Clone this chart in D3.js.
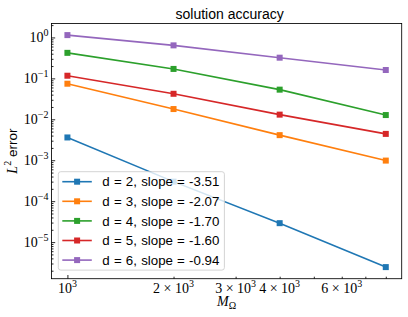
<!DOCTYPE html>
<html>
<head>
<meta charset="utf-8">
<script src="https://cdn.jsdelivr.net/npm/d3@7"></script>
<style>
  body { margin: 0; background: #fff; }
  svg { display: block; }
</style>
</head>
<body>
<svg width="408" height="317"></svg>
<script>
// data
var m_omega = [1000, 2000, 4000, 8000];
var dims = [2, 3, 4, 5, 6];
var slopes = ["-3.51", "-2.07", "-1.70", "-1.60", "-0.94"];
var err_d2 = [0.0036, 0.0003, 2.9e-5, 2.45e-6];
var err_d3 = [0.074, 0.0178, 0.0041, 0.00098];
var err_d4 = [0.42, 0.17, 0.053, 0.0127];
var err_d5 = [0.116, 0.042, 0.013, 0.0044];
var err_d6 = [1.14, 0.64, 0.32, 0.16];
var y_major = [1, 1e-1, 1e-2, 1e-3, 1e-4, 1e-5];
var x_labels = [1000, 2000, 3000, 4000, 6000];

var errors = [err_d2, err_d3, err_d4, err_d5, err_d6];
var colors = ["#1f77b4", "#ff7f0e", "#2ca02c", "#d62728", "#9467bd"];

var width = 408, height = 317,
    margin = { top: 23.5, right: 6.3, bottom: 38.3, left: 51.5 },
    w = width - margin.left - margin.right,
    h = height - margin.top - margin.bottom;

var sansFont = "'Liberation Sans', Arial, sans-serif";
var mathFont = "'Liberation Serif', 'DejaVu Serif', serif";

var svg = d3.select("svg");
var g = svg.append("g").attr("transform", `translate(${margin.left},${margin.top})`);

// matplotlib-like 5% margins in log space
function logPad(vals) {
    var lo = Math.log10(d3.min(vals)), hi = Math.log10(d3.max(vals)), pad = (hi - lo) * 0.05;
    return [Math.pow(10, lo - pad), Math.pow(10, hi + pad)];
}
var xScale = d3.scaleLog().domain(logPad(m_omega)).range([0, w]);
var yScale = d3.scaleLog().domain(logPad(d3.merge(errors))).range([h, 0]);

// minor ticks
function minorTicks(scale) {
    var d = scale.domain(), lo = Math.min(d[0], d[1]), hi = Math.max(d[0], d[1]), out = [];
    for (var k = Math.floor(Math.log10(lo)); k <= Math.ceil(Math.log10(hi)); k++) {
        for (var m = 1; m <= 9; m++) {
            var v = m * Math.pow(10, k);
            if (v >= lo && v <= hi) out.push(v);
        }
    }
    return out;
}
var xMinor = minorTicks(xScale), yMinor = minorTicks(yScale);
var yMajorIn = y_major.filter(v => v >= yScale.domain()[0] && v <= yScale.domain()[1]);
var xMajorIn = xMinor.filter(v => Math.abs(Math.log10(v) % 1) < 1e-9);

g.append("g").attr("class", "y minor")
    .call(d3.axisLeft(yScale).tickValues(yMinor.filter(v => yMajorIn.indexOf(v) < 0)).tickSize(-2).tickFormat(""));
g.append("g").attr("class", "y major")
    .call(d3.axisLeft(yScale).tickValues(yMajorIn).tickSize(-3.7).tickFormat(""));
g.append("g").attr("class", "x minor").attr("transform", `translate(0,${h})`)
    .call(d3.axisBottom(xScale).tickValues(xMinor.filter(v => xMajorIn.indexOf(v) < 0)).tickSize(-2).tickFormat(""));
g.append("g").attr("class", "x major").attr("transform", `translate(0,${h})`)
    .call(d3.axisBottom(xScale).tickValues(xMajorIn).tickSize(-3.7).tickFormat(""));
g.selectAll(".domain").remove();
g.selectAll(".tick line").attr("stroke", "#000").attr("stroke-width", 0.85);

// y tick labels 10^k
yMajorIn.forEach(v => {
    var k = Math.round(Math.log10(v));
    var t = g.append("text")
        .attr("x", -3).attr("y", yScale(v) + 4.9)
        .attr("text-anchor", "end")
        .style("font-family", mathFont).style("font-size", "14px");
    t.append("tspan").text("10");
    t.append("tspan").attr("dy", -6).style("font-size", "10px").text(String(k).replace("-", "\u2212"));
});

// x tick labels
x_labels.forEach(v => {
    var k = Math.floor(Math.log10(v) + 1e-9), m = Math.round(v / Math.pow(10, k));
    var t = g.append("text")
        .attr("x", xScale(v)).attr("y", h + 13.8)
        .attr("text-anchor", "middle")
        .style("font-family", mathFont).style("font-size", "14px");
    t.append("tspan").text((m === 1 ? "" : m + " \u00d7 ") + "10");
    t.append("tspan").attr("dy", -6).style("font-size", "10px").text(k);
});

// lines and markers
var line = d3.line().x((d, i) => xScale(m_omega[i])).y(d => yScale(d));
errors.forEach((series, s) => {
    g.append("path")
        .datum(series)
        .attr("fill", "none")
        .attr("stroke", colors[s])
        .attr("stroke-width", 1.6)
        .attr("d", line);
    g.selectAll(".mk" + s)
        .data(series)
        .enter().append("rect")
        .attr("class", "mk" + s)
        .attr("x", (d, i) => xScale(m_omega[i]) - 3)
        .attr("y", d => yScale(d) - 3)
        .attr("width", 6).attr("height", 6)
        .attr("fill", colors[s]);
});

// spines
g.append("rect")
    .attr("width", w).attr("height", h)
    .attr("fill", "none").attr("stroke", "#000").attr("stroke-width", 0.85);

// title and axis labels
svg.append("text")
    .attr("x", margin.left + w / 2 + 3).attr("y", 19)
    .attr("text-anchor", "middle")
    .style("font-family", sansFont).style("font-size", "14px")
    .text("solution accuracy");

var xl = svg.append("text")
    .attr("x", margin.left + w / 2).attr("y", 306)
    .attr("text-anchor", "middle")
    .style("font-family", mathFont).style("font-size", "14px");
xl.append("tspan").style("font-style", "italic").text("M");
xl.append("tspan").attr("dy", 2.5).style("font-size", "10px").text("\u03a9");

var yl = svg.append("text")
    .attr("transform", `translate(17,${margin.top + h / 2}) rotate(-90)`)
    .attr("text-anchor", "middle");
yl.append("tspan").style("font-family", mathFont).style("font-style", "italic").style("font-size", "14px").text("L");
yl.append("tspan").attr("dy", -6).style("font-family", mathFont).style("font-size", "10px").text("2");
yl.append("tspan").attr("dy", 6).style("font-family", sansFont).style("font-size", "13.5px").text(" error");

// legend
var legend = g.append("g").attr("transform", "translate(6.8,148.2)");
var box = legend.append("rect")
    .attr("x", 0).attr("y", 0).attr("rx", 2.5)
    .attr("fill", "#fff").attr("fill-opacity", 0.8)
    .attr("stroke", "#cccccc").attr("stroke-width", 0.85);
var rowH = 19.6, maxW = 0;
dims.forEach((d, i) => {
    var cy = 10 + i * rowH;
    legend.append("line")
        .attr("x1", 4).attr("x2", 33.5).attr("y1", cy).attr("y2", cy)
        .attr("stroke", colors[i]).attr("stroke-width", 1.6);
    legend.append("rect")
        .attr("x", 18.8 - 3).attr("y", cy - 3).attr("width", 6).attr("height", 6)
        .attr("fill", colors[i]);
    var t = legend.append("text")
        .attr("x", 44).attr("y", cy + 4.8)
        .style("font-family", sansFont).style("font-size", "13.3px")
        .style("word-spacing", "0.5px")
        .text(`d = ${d}, slope = ${slopes[i]}`);
    maxW = Math.max(maxW, t.node().getComputedTextLength());
});
box.attr("width", 44 + maxW + 5).attr("height", 20 + (dims.length - 1) * rowH);
</script>
</body>
</html>
